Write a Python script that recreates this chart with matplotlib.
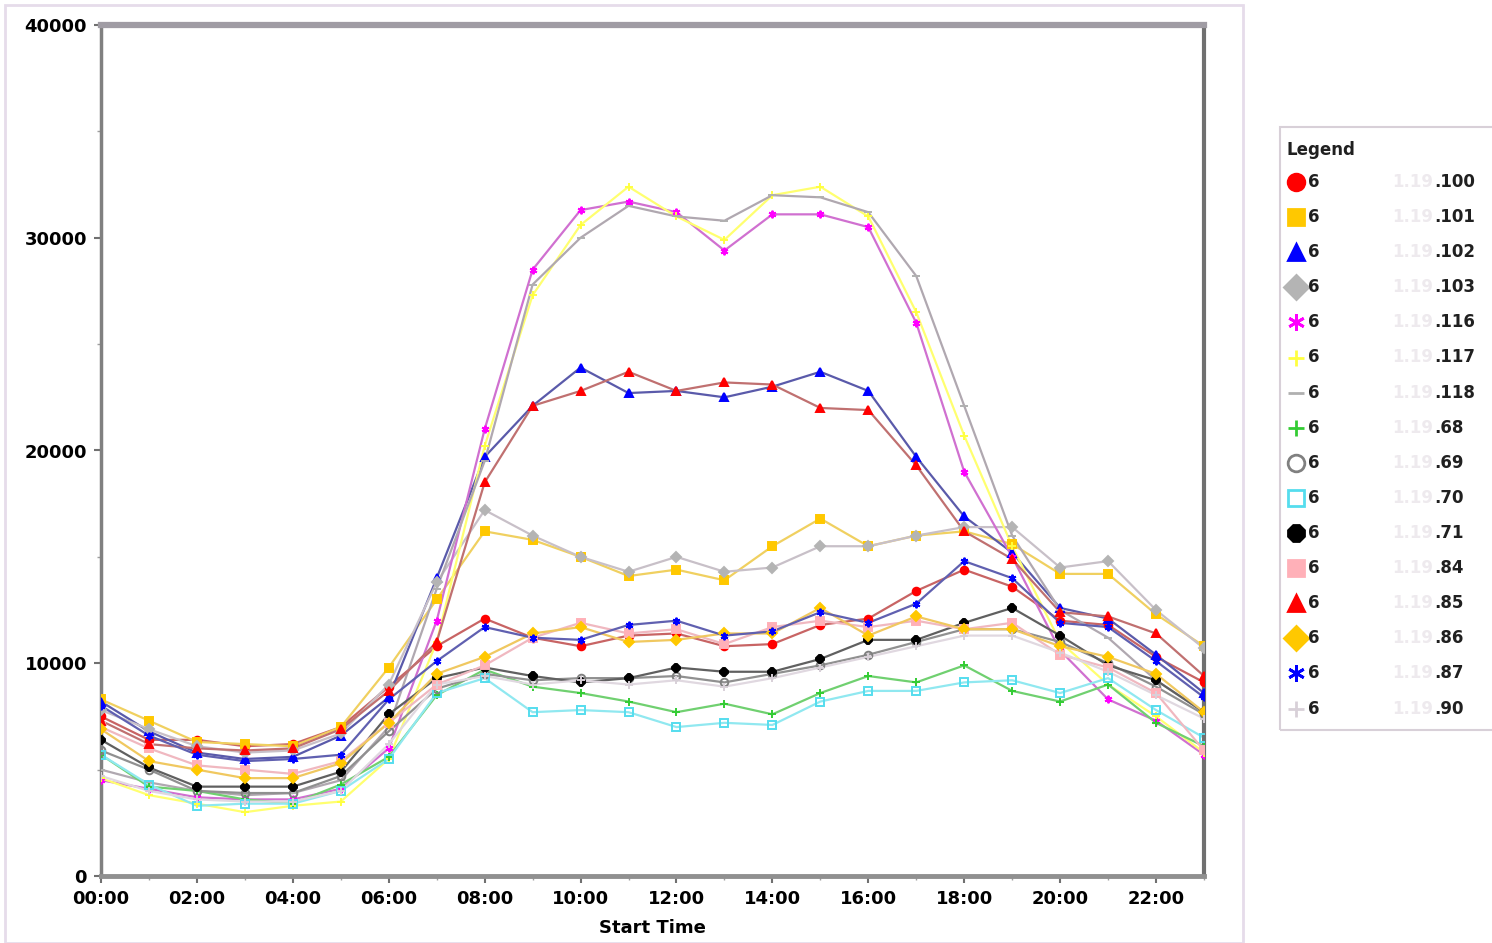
import matplotlib
matplotlib.use("Agg")
import matplotlib.pyplot as plt
from matplotlib.lines import Line2D
from matplotlib.patches import Rectangle
from matplotlib.ticker import MultipleLocator

hours = ["%02d:00" % h for h in range(24)]

s100 = [7500, 6400, 6400, 6100, 6200, 7000, 8900, 10800, 12100, 11200, 10800, 11300,
        11400, 10800, 10900, 11800, 12100, 13400, 14400, 13600, 12000, 11800, 10300, 9100]
s101 = [8300, 7300, 6300, 6200, 6100, 7000, 9800, 13000, 16200, 15800, 15000, 14100,
        14400, 13900, 15500, 16800, 15500, 16000, 16200, 15600, 14200, 14200, 12300, 10800]
s102 = [8200, 6800, 5800, 5500, 5600, 6600, 8400, 14000, 19700, 22100, 23900, 22700,
        22800, 22500, 23000, 23700, 22800, 19700, 16900, 15200, 12600, 12100, 10400, 8600]
s103 = [7800, 6900, 6100, 5800, 5900, 6700, 9000, 13800, 17200, 16000, 15000, 14300,
        15000, 14300, 14500, 15500, 15500, 16000, 16400, 16400, 14500, 14800, 12500, 10700]
s116 = [4500, 4100, 3700, 3600, 3600, 4100, 6000, 12000, 21000, 28500, 31300, 31700,
        31200, 29400, 31100, 31100, 30500, 26000, 19000, 15000, 10600, 8300, 7300, 5700]
s117 = [4600, 3800, 3400, 3000, 3300, 3500, 5500, 11000, 20200, 27300, 30600, 32400,
        31000, 29900, 32000, 32400, 31000, 26500, 20700, 15500, 11000, 9000, 7500, 5800]
s118 = [5000, 4400, 4000, 3800, 3900, 4500, 7000, 13500, 19500, 27800, 30000, 31500,
        31000, 30800, 32000, 31900, 31200, 28200, 22100, 16000, 12500, 11200, 9200, 7700]
s68 = [5700, 4200, 4000, 3600, 3400, 4300, 5600, 8500, 9700, 8900, 8600, 8200,
       7700, 8100, 7600, 8600, 9400, 9100, 9900, 8700, 8200, 9000, 7200, 6100]
s69 = [5900, 5000, 4000, 3900, 3900, 4700, 6800, 8800, 9500, 9200, 9300, 9300,
       9400, 9100, 9500, 9900, 10400, 11000, 11600, 11600, 11000, 10000, 8900, 7600]
s70 = [5700, 4300, 3300, 3400, 3400, 4000, 5500, 8600, 9300, 7700, 7800, 7700,
       7000, 7200, 7100, 8200, 8700, 8700, 9100, 9200, 8600, 9300, 7800, 6500]
s71 = [6400, 5100, 4200, 4200, 4200, 4900, 7600, 9300, 9800, 9400, 9100, 9300,
       9800, 9600, 9600, 10200, 11100, 11100, 11900, 12600, 11300, 9900, 9200, 7700]
s84 = [7000, 6000, 5200, 5000, 4800, 5400, 7200, 9000, 9900, 11200, 11900, 11400,
       11600, 10900, 11700, 12000, 11700, 12000, 11600, 11900, 10400, 9800, 8600, 5900]
s85 = [7300, 6200, 6000, 5900, 6000, 6900, 8700, 11000, 18500, 22100, 22800, 23700,
       22800, 23200, 23100, 22000, 21900, 19300, 16200, 14900, 12400, 12200, 11400, 9400]
s86 = [6900, 5400, 5000, 4600, 4600, 5300, 7200, 9500, 10300, 11400, 11700, 11000,
       11100, 11400, 11400, 12600, 11300, 12200, 11600, 11600, 10800, 10300, 9500, 7700]
s87 = [8000, 6600, 5700, 5400, 5500, 5700, 8300, 10100, 11700, 11200, 11100, 11800,
       12000, 11300, 11500, 12400, 11900, 12800, 14800, 14000, 11900, 11700, 10100, 8400]
s90 = [4700, 4000, 3600, 3500, 3500, 4000, 6200, 9000, 9400, 9000, 9200, 9000,
       9200, 8900, 9300, 9800, 10300, 10800, 11300, 11300, 10500, 9600, 8500, 7400]

suffixes = [".100", ".101", ".102", ".103", ".116", ".117", ".118", ".68",
            ".69", ".70", ".71", ".84", ".85", ".86", ".87", ".90"]
values = [s100, s101, s102, s103, s116, s117, s118, s68,
          s69, s70, s71, s84, s85, s86, s87, s90]

ASTER = (6, 2, 0)
# marker color, line color, marker, filled
styles = [
    ("#ff0000", "#c86464", "o", True),
    ("#ffc800", "#f0d060", "s", True),
    ("#0000ff", "#5a5aaa", "^", True),
    ("#b4b4b4", "#c8c0c8", "D", True),
    ("#ff00ff", "#d070d0", ASTER, True),
    ("#ffff40", "#ffff70", "+", True),
    ("#b0b0b0", "#b0a8b0", "_", True),
    ("#33cc33", "#70d070", "+", True),
    ("#808080", "#909090", "o", False),
    ("#55ddee", "#90e8f0", "s", False),
    ("#000000", "#606060", "8", True),
    ("#ffb0b8", "#f0b8c0", "s", True),
    ("#ff0000", "#c07070", "^", True),
    ("#ffc800", "#f0c860", "D", True),
    ("#0000ff", "#6060b0", ASTER, True),
    ("#d8d0d8", "#e0d8e0", "+", True),
]

W, H = 1492, 943
fig = plt.figure(figsize=(W / 100, H / 100), dpi=100)
ax = fig.add_axes([101 / W, 1 - 876 / H, (1204 - 101) / W, (876 - 25) / H])

x = list(range(len(hours)))
for vals, (mc, lc, mk, filled) in zip(values, styles):
    ax.plot(x, vals, color=lc, lw=1.6, zorder=2)
    ax.plot(x, vals, ls="none", marker=mk, ms=5.5, mew=1.4, color=mc,
            mfc=mc if filled else "none", zorder=3)

ax.set_xlim(0, 23)
ax.set_ylim(0, 40000)
ax.set_xticks(x[::2])
ax.set_xticklabels(hours[::2], fontsize=13, fontweight="bold")
ax.xaxis.set_minor_locator(MultipleLocator(1))
ax.set_yticks([0, 10000, 20000, 30000, 40000])
ax.set_yticklabels(["0", "10000", "20000", "30000", "40000"], fontsize=13, fontweight="bold")
ax.yaxis.set_minor_locator(MultipleLocator(5000))
ax.tick_params(axis="both", which="major", length=5, width=1.5, color="#707070", pad=5)
ax.tick_params(axis="both", which="minor", length=3, width=1, color="#a0a0a0")
ax.set_xlabel("Start Time", fontsize=13, fontweight="bold", labelpad=8)

for side, lw, col in [("left", 2.5, "#808080"), ("bottom", 3.5, "#909090"),
                      ("top", 4.5, "#a09ca4"), ("right", 3, "#707070")]:
    ax.spines[side].set_linewidth(lw)
    ax.spines[side].set_color(col)

# outer chart panel border
fig.patches.append(Rectangle((5 / W, 0), (1243 - 5) / W, 1 - 5 / H - 0.0005,
                             transform=fig.transFigure, fill=False,
                             edgecolor="#e6dcea", lw=2))

# legend box
fig.patches.append(Rectangle((1280 / W, 1 - 730 / H), (W - 1280) / W + 0.01,
                             (730 - 127) / H, transform=fig.transFigure,
                             fill=False, edgecolor="#d8d0d8", lw=1.5))
fig.text(1286 / W, 1 - 150 / H, "Legend", fontsize=12, fontweight="bold",
         va="center", ha="left", color="#202020")
for i, (suf, (mc, lc, mk, filled)) in enumerate(zip(suffixes, styles)):
    yy = 1 - (182 + 35.1 * i) / H
    fig.add_artist(Line2D([1296 / W], [yy], transform=fig.transFigure,
                          marker=mk, ms=12, mew=2, color=mc,
                          mfc=mc if filled else "none", ls="none"))
    fig.text(1308 / W, yy, "6", fontsize=12, fontweight="bold",
             va="center", ha="left", color="#202020")
    fig.text(1433 / W, yy, "1.19", fontsize=12, fontweight="bold",
             va="center", ha="right", color="#eeeaee")
    fig.text(1434 / W, yy, suf, fontsize=12, fontweight="bold",
             va="center", ha="left", color="#202020")

fig.savefig("out.png", dpi=100)
